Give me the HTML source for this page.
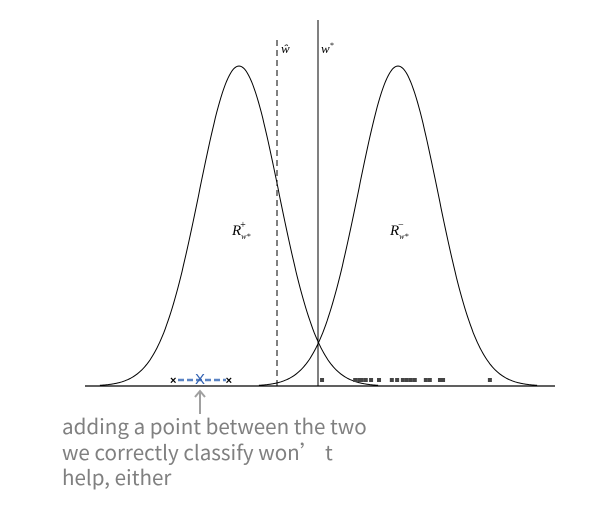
<!DOCTYPE html>
<html><head><meta charset="utf-8"><style>
body{margin:0;background:#fff;width:606px;height:506px;overflow:hidden}
svg{display:block}
.cap{position:absolute;left:62px;top:413px;font-family:"Noto Sans CJK SC","Liberation Sans",sans-serif;font-size:20.6px;line-height:25.5px;color:#808080;margin:0}
</style></head><body>
<svg id="chart" width="606" height="506" xmlns="http://www.w3.org/2000/svg">
<line x1="85" y1="386" x2="555" y2="386" stroke="#000" stroke-width="1.3"/>
<line x1="277" y1="40" x2="277" y2="386" stroke="#000" stroke-dasharray="6,4"/>
<line x1="318" y1="20" x2="318" y2="386" stroke="#000"/>
<text x="281" y="53" font-family="Liberation Serif,serif" font-style="italic" font-size="13">ŵ</text>
<text x="321" y="53" font-family="Liberation Serif,serif" font-style="italic" font-size="13">w<tspan font-size="8" dy="-5">*</tspan></text>
<text x="232" y="235" font-family="Liberation Serif,serif" font-style="italic" font-size="15">R<tspan font-size="8" dy="4">w*</tspan><tspan font-size="10" dx="-11" dy="-11">+</tspan></text>
<text x="390" y="235" font-family="Liberation Serif,serif" font-style="italic" font-size="15">R<tspan font-size="8" dy="4">w*</tspan><tspan font-size="10" dx="-11" dy="-11">−</tspan></text>
<g id="curves"></g><g id="pts"></g>
<line x1="178" y1="380" x2="226" y2="380" stroke="#5b84c4" stroke-width="2.5" stroke-dasharray="6,3"/>
<text x="200" y="384" text-anchor="middle" font-family="Liberation Sans,sans-serif" font-size="15" fill="#2f5fb0">X</text>
<g stroke="#a0a0a0" stroke-width="2" fill="none">
<line x1="200" y1="391" x2="200" y2="414"/><polyline points="195,397 200,391 205,397"/></g>
</svg>
<p class="cap">adding a point between the two<br>we correctly classify won’ t<br>help, either</p>
<script>
const centers=[0.32,0.68];
const sigma=0.09;
const negPts=[0.508,0.583,0.592,0.598,0.607,0.619,0.637,0.666,0.678,0.691,0.700,0.709,0.718,0.743,0.752,0.775,0.782,0.888];
const posPts=[0.171,0.297];
const X=v=>239+(v-0.32)*441.7;
const Y=v=>386-v*320;
const ns="http://www.w3.org/2000/svg";
const cg=document.getElementById('curves');
centers.forEach((c,i)=>{let d='';for(let k=0;k<=200;k++){const v=c-3.5*sigma+k*7*sigma/200;const y=Math.exp(-((v-c)**2)/(2*sigma*sigma));d+=(k?'L':'M')+X(v).toFixed(1)+','+Y(y).toFixed(1);}
const p=document.createElementNS(ns,'path');p.setAttribute('d',d);p.setAttribute('fill','none');p.setAttribute('stroke','#000');


cg.appendChild(p);});
const pg=document.getElementById('pts');
negPts.forEach(v=>{const r=document.createElementNS(ns,'rect');r.setAttribute('x',X(v)-2);r.setAttribute('y',378);r.setAttribute('width',4);r.setAttribute('height',4);r.setAttribute('fill','#444');


pg.appendChild(r);});
posPts.forEach(v=>{const t=document.createElementNS(ns,'text');t.setAttribute('x',X(v));t.setAttribute('y',384);t.setAttribute('text-anchor','middle');t.setAttribute('font-size','11');t.setAttribute('font-weight','bold');t.setAttribute('font-family','Liberation Sans,sans-serif');t.textContent='×';


pg.appendChild(t);});
</script>
</body></html>
